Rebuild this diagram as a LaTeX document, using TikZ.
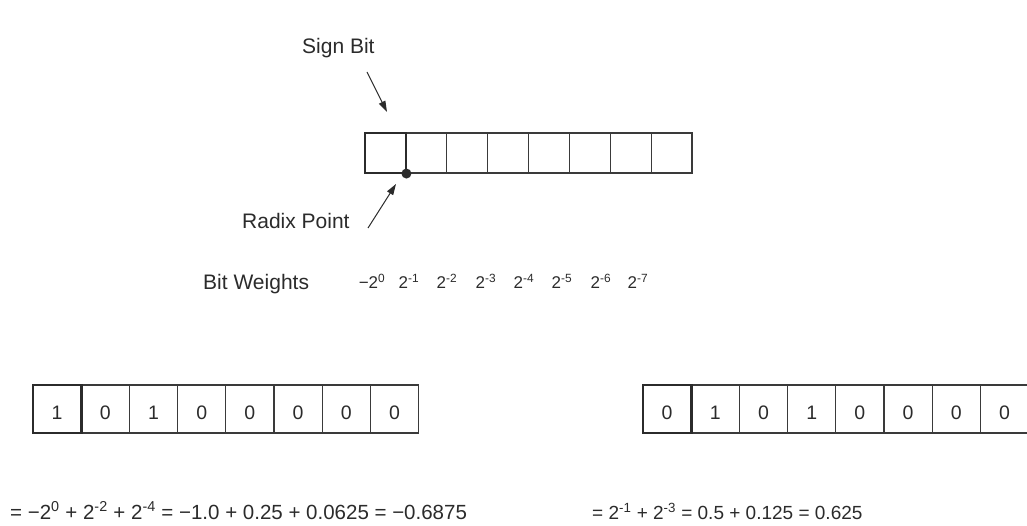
\documentclass[tikz,border=0pt]{standalone}
\usepackage{fontspec}
\setmainfont{Liberation Sans}
\usetikzlibrary{arrows.meta}
\definecolor{ink}{HTML}{2B2B2B}
\definecolor{rule}{HTML}{3A3A3A}

\begin{document}
\begin{tikzpicture}[x=1pt,y=-1pt,
  caption/.style={font=\fontsize{21}{24}\selectfont, text=ink, inner sep=0pt, anchor=base west},
  weight/.style={font=\fontsize{17}{19}\selectfont, text=ink, inner sep=0pt, anchor=base},
  topcell/.style={draw=rule, line width=1.1pt, inner sep=0pt, minimum width=40.875pt, minimum height=40pt},
  bitcell/.style={draw=rule, line width=1.1pt, inner sep=0pt, minimum width=48.2pt, minimum height=48pt},
  signcell/.style={draw=ink, line width=2.6pt},
  digit/.style={font=\fontsize{19.5}{22}\selectfont, text=ink, inner sep=0pt, anchor=base},
  eq/.style={text=ink, inner sep=0pt, anchor=base west},
  pointer/.style={draw=ink, line width=1pt, -{Triangle[length=11pt,width=7pt]}}
]
\useasboundingbox (0,0) rectangle (1027,526);
\clip (0,0) rectangle (1027,526);

% ---- generic 8-bit register with sign bit and radix point ----
\foreach \i in {0,...,7}
  \node[topcell] (t\i) at ({365+40.875*\i+20.44},153) {};
\node[topcell, signcell] (tsign) at (t0.center) {};
\node[circle, fill=ink, minimum size=10pt, inner sep=0pt] (rpdot) at (t0.south east) {};

\node[caption] (signlbl) at (302,54) {Sign Bit};
\coordinate (sbtail) at (367,72);
\coordinate (sbhead) at (387,112);
\draw[pointer] (sbtail) -- (sbhead);

\node[caption] (radixlbl) at (242,229) {Radix Point};
\coordinate (rptail) at (368,228);
\coordinate (rphead) at (396,184);
\draw[pointer] (rptail) -- (rphead);

% ---- bit weights ----
\node[caption] (wlbl) at (203,290) {Bit Weights};
\node[weight] (w0) at (372,289) {\textminus2\textsuperscript{0}};
\foreach \k/\x in {1/409,2/447,3/486,4/524,5/562,6/601,7/638}
  \node[weight] (w\k) at (\x,289) {2\textsuperscript{-\k}};

% ---- example: negative value ----
\foreach \d [count=\i from 0] in {1,0,1,0,0,0,0,0}{
  \node[bitcell] (a\i) at ({33+48.2*\i+24.1},409) {};
  \node[digit] (ad\i) at ([yshift=-10pt]a\i.center) {\d};
}
\node[bitcell, signcell] (asign) at (a0.center) {};
\node[eq, font=\fontsize{20.5}{23}\selectfont] (aeq) at (10,519)
  {= \textminus2\textsuperscript{0} + 2\textsuperscript{-2} + 2\textsuperscript{-4} = \textminus1.0 + 0.25 + 0.0625 = \textminus0.6875};

% ---- example: positive value ----
\foreach \d [count=\i from 0] in {0,1,0,1,0,0,0,0}{
  \node[bitcell] (b\i) at ({643+48.2*\i+24.1},409) {};
  \node[digit] (bd\i) at ([yshift=-10pt]b\i.center) {\d};
}
\node[bitcell, signcell] (bsign) at (b0.center) {};
\node[eq, font=\fontsize{19}{22}\selectfont] (beq) at (592,519)
  {= 2\textsuperscript{-1} + 2\textsuperscript{-3} = 0.5 + 0.125 = 0.625};
\end{tikzpicture}
\end{document}
